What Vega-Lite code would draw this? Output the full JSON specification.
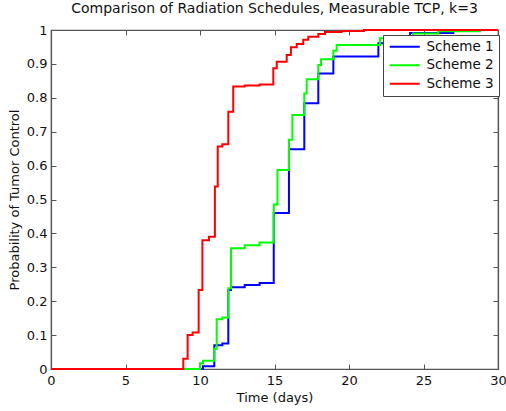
{
  "$schema": "https://vega.github.io/schema/vega-lite/v6.json",
  "width": 447,
  "height": 339,
  "autosize": {"type": "none"},
  "padding": {"left": 51, "top": 30, "right": 8, "bottom": 42},
  "background": "white",
  "title": {"text": "Comparison of Radiation Schedules, Measurable TCP, k=3", "font": "DejaVu Sans", "fontSize": 14, "fontWeight": "normal", "color": "#111", "anchor": "middle", "offset": 8},
  "config": {
    "view": {"stroke": "#555", "strokeWidth": 1.2},
    "axis": {"grid": false, "domainColor": "#555", "domainWidth": 1.2, "tickColor": "#555", "tickWidth": 1, "tickSize": -5, "labelFont": "DejaVu Sans", "labelFontSize": 13, "labelColor": "#111", "titleFont": "DejaVu Sans", "titleFontSize": 13, "titleFontWeight": "normal", "titleColor": "#111"}
  },
  "data": {"values": [
    {"scheme": "Scheme 1", "t": 0, "p": 0},
    {"scheme": "Scheme 1", "t": 10.2, "p": 0.008},
    {"scheme": "Scheme 1", "t": 10.96, "p": 0.07},
    {"scheme": "Scheme 1", "t": 11.5, "p": 0.075},
    {"scheme": "Scheme 1", "t": 11.9, "p": 0.233},
    {"scheme": "Scheme 1", "t": 12.08, "p": 0.241},
    {"scheme": "Scheme 1", "t": 13, "p": 0.248},
    {"scheme": "Scheme 1", "t": 14, "p": 0.254},
    {"scheme": "Scheme 1", "t": 14.95, "p": 0.46},
    {"scheme": "Scheme 1", "t": 15.97, "p": 0.648},
    {"scheme": "Scheme 1", "t": 17.0, "p": 0.784},
    {"scheme": "Scheme 1", "t": 17.94, "p": 0.872},
    {"scheme": "Scheme 1", "t": 18.95, "p": 0.922},
    {"scheme": "Scheme 1", "t": 21.97, "p": 0.961},
    {"scheme": "Scheme 1", "t": 22.95, "p": 0.975},
    {"scheme": "Scheme 1", "t": 24.1, "p": 0.991},
    {"scheme": "Scheme 1", "t": 27, "p": 1.0},
    {"scheme": "Scheme 1", "t": 30, "p": 1.0},
    {"scheme": "Scheme 2", "t": 0, "p": 0},
    {"scheme": "Scheme 2", "t": 10.0, "p": 0.017},
    {"scheme": "Scheme 2", "t": 10.2, "p": 0.024},
    {"scheme": "Scheme 2", "t": 10.95, "p": 0.06},
    {"scheme": "Scheme 2", "t": 11.12, "p": 0.147},
    {"scheme": "Scheme 2", "t": 11.5, "p": 0.152},
    {"scheme": "Scheme 2", "t": 11.9, "p": 0.238},
    {"scheme": "Scheme 2", "t": 12.08, "p": 0.356},
    {"scheme": "Scheme 2", "t": 13, "p": 0.365},
    {"scheme": "Scheme 2", "t": 14, "p": 0.373},
    {"scheme": "Scheme 2", "t": 14.95, "p": 0.485},
    {"scheme": "Scheme 2", "t": 15.2, "p": 0.587},
    {"scheme": "Scheme 2", "t": 15.97, "p": 0.676},
    {"scheme": "Scheme 2", "t": 16.2, "p": 0.749},
    {"scheme": "Scheme 2", "t": 17.0, "p": 0.813},
    {"scheme": "Scheme 2", "t": 17.16, "p": 0.855},
    {"scheme": "Scheme 2", "t": 17.94, "p": 0.897},
    {"scheme": "Scheme 2", "t": 18.12, "p": 0.914},
    {"scheme": "Scheme 2", "t": 18.95, "p": 0.939},
    {"scheme": "Scheme 2", "t": 19.17, "p": 0.956},
    {"scheme": "Scheme 2", "t": 22.08, "p": 0.976},
    {"scheme": "Scheme 2", "t": 24.3, "p": 0.99},
    {"scheme": "Scheme 2", "t": 26, "p": 0.996},
    {"scheme": "Scheme 2", "t": 28.8, "p": 1.0},
    {"scheme": "Scheme 2", "t": 30, "p": 1.0},
    {"scheme": "Scheme 3", "t": 0, "p": 0},
    {"scheme": "Scheme 3", "t": 8.88, "p": 0.03},
    {"scheme": "Scheme 3", "t": 9.17, "p": 0.1},
    {"scheme": "Scheme 3", "t": 9.5, "p": 0.108},
    {"scheme": "Scheme 3", "t": 9.91, "p": 0.233},
    {"scheme": "Scheme 3", "t": 10.16, "p": 0.38},
    {"scheme": "Scheme 3", "t": 10.6, "p": 0.39},
    {"scheme": "Scheme 3", "t": 11.0, "p": 0.538},
    {"scheme": "Scheme 3", "t": 11.19, "p": 0.656},
    {"scheme": "Scheme 3", "t": 11.5, "p": 0.663},
    {"scheme": "Scheme 3", "t": 11.9, "p": 0.759},
    {"scheme": "Scheme 3", "t": 12.23, "p": 0.833},
    {"scheme": "Scheme 3", "t": 13, "p": 0.836},
    {"scheme": "Scheme 3", "t": 14, "p": 0.839},
    {"scheme": "Scheme 3", "t": 14.92, "p": 0.887},
    {"scheme": "Scheme 3", "t": 15.15, "p": 0.906},
    {"scheme": "Scheme 3", "t": 15.82, "p": 0.926},
    {"scheme": "Scheme 3", "t": 16.1, "p": 0.949},
    {"scheme": "Scheme 3", "t": 16.49, "p": 0.959},
    {"scheme": "Scheme 3", "t": 16.93, "p": 0.971},
    {"scheme": "Scheme 3", "t": 17.27, "p": 0.98},
    {"scheme": "Scheme 3", "t": 17.94, "p": 0.988},
    {"scheme": "Scheme 3", "t": 18.39, "p": 0.994},
    {"scheme": "Scheme 3", "t": 19.5, "p": 0.997},
    {"scheme": "Scheme 3", "t": 21, "p": 1.0},
    {"scheme": "Scheme 3", "t": 30, "p": 1.0}
  ]},
  "layer": [
    {
      "mark": {"type": "line", "interpolate": "step-after", "strokeWidth": 2},
      "encoding": {
        "x": {"field": "t", "type": "quantitative", "scale": {"domain": [0, 30], "nice": false},
              "axis": {"orient": "bottom", "values": [0, 5, 10, 15, 20, 25, 30], "title": "Time (days)", "labelPadding": 10, "titlePadding": 4, "labelFlush": false}},
        "y": {"field": "p", "type": "quantitative", "scale": {"domain": [0, 1], "nice": false},
              "axis": {"orient": "left", "values": [0, 0.1, 0.2, 0.3, 0.4, 0.5, 0.6, 0.7, 0.8, 0.9, 1], "format": "~g", "title": "Probability of Tumor Control", "labelPadding": 9, "titlePadding": 5, "labelFlush": false}},
        "color": {"field": "scheme", "type": "nominal",
                  "scale": {"domain": ["Scheme 1", "Scheme 2", "Scheme 3"], "range": ["#0000ff", "#00ff00", "#ff0000"]},
                  "legend": {"title": null, "orient": "none", "legendX": 332, "legendY": 5, "symbolType": "M-3,0H3", "symbolSize": 100, "symbolStrokeWidth": 2, "symbolOffset": 10, "labelFont": "DejaVu Sans", "labelFontSize": 13.5, "labelColor": "#111", "fillColor": "white", "strokeColor": "#444", "padding": 5, "rowPadding": 3.5, "labelOffset": 15}}
      }
    },
    {
      "mark": {"type": "point", "opacity": 0},
      "encoding": {
        "x": {"field": "t", "type": "quantitative", "scale": {"domain": [0, 30], "nice": false},
              "axis": {"orient": "top", "values": [0, 5, 10, 15, 20, 25, 30], "labels": false, "title": null}},
        "y": {"field": "p", "type": "quantitative", "scale": {"domain": [0, 1], "nice": false},
              "axis": {"orient": "right", "values": [0, 0.1, 0.2, 0.3, 0.4, 0.5, 0.6, 0.7, 0.8, 0.9, 1], "labels": false, "title": null}}
      }
    }
  ],
  "resolve": {"axis": {"x": "independent", "y": "independent"}}
}
